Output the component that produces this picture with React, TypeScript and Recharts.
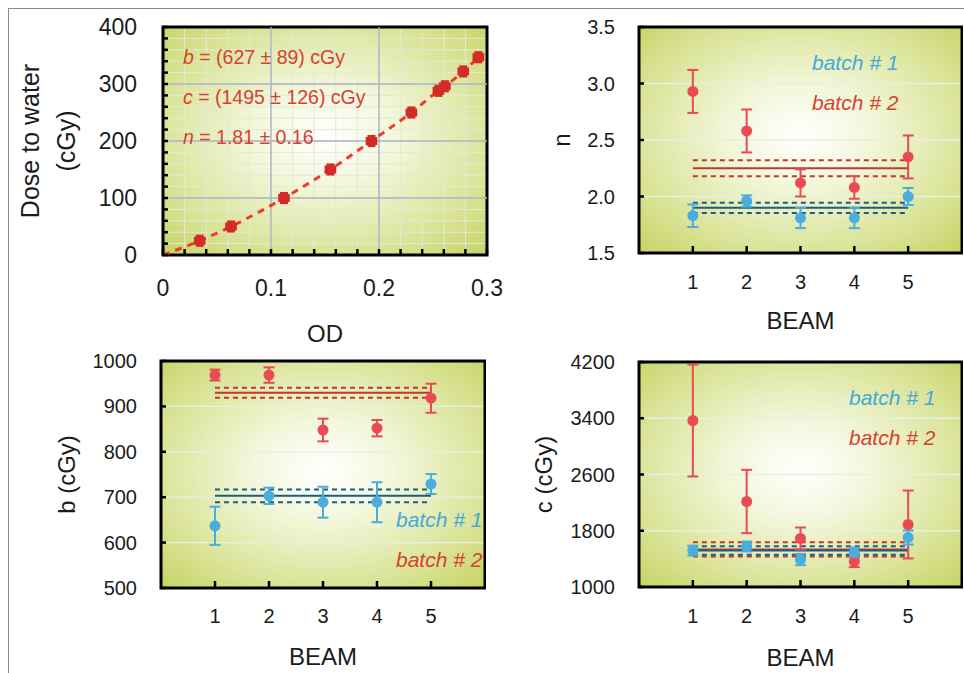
import React from "react";
import {
  CartesianGrid,
  ComposedChart,
  ErrorBar,
  Label,
  Line,
  ReferenceArea,
  ReferenceLine,
  Scatter,
  XAxis,
  YAxis,
} from "recharts";

// Film calibration (top-left) and per-beam fit parameters b, c, n for two film batches.

if (typeof document !== "undefined") document.body.style.margin = "0";

const FONT = '"Liberation Sans", Arial, Helvetica, sans-serif';
const INK = "#1b1b1b";
const RED = "#ea4a52";
const RED_DARK = "#d42b26";
const RED_TEXT = "#d8412f";
const RED_MEAN = "#bf3a2e";
const BLUE = "#4badde";
const BLUE_MEAN = "#1c5d85";
const BLUE_TEXT = "#45a8da";

// ---- calibration curve
const od = [0.034, 0.063, 0.112, 0.155, 0.193, 0.23, 0.255, 0.261, 0.278, 0.292];
const dose = [25, 50, 100, 150, 200, 250, 288, 296, 322, 347];
const odErr = [0.004, 0.004, 0.004, 0.004, 0.004, 0.004, 0.004, 0.004, 0.004, 0.004];
const doseErr = [8, 8, 8, 8, 8, 8, 8, 8, 8, 8];
const odTicks = [0, 0.02, 0.04, 0.06, 0.08, 0.1, 0.12, 0.14, 0.16, 0.18, 0.2, 0.22, 0.24, 0.26, 0.28, 0.3];
const odLabels = [0, 0.1, 0.2, 0.3];
const doseTicks = [0, 20, 40, 60, 80, 100, 120, 140, 160, 180, 200, 220, 240, 260, 280, 300, 320, 340, 360, 380, 400];
const doseLabels = [0, 100, 200, 300, 400];
const odGrid = [0.1, 0.2];
const doseGrid = [100, 200, 300];

// ---- per-beam parameters
const beams = [1, 2, 3, 4, 5];

const nBatch1 = [1.83, 1.96, 1.81, 1.81, 2.0];
const nBatch1Err = [0.1, 0.05, 0.09, 0.09, 0.075];
const nBatch2 = [2.93, 2.58, 2.12, 2.08, 2.35];
const nBatch2Err = [0.19, 0.19, 0.12, 0.1, 0.19];
const nMean = [1.9, 2.25]; // batch 1, batch 2
const nBand = [0.045, 0.07];
const nTicks = [1.5, 2.0, 2.5, 3.0, 3.5];

const bBatch1 = [637, 703, 689, 689, 729];
const bBatch1Err = [42, 18, 34, 44, 22];
const bBatch2 = [969, 969, 848, 852, 918];
const bBatch2Err = [12, 17, 25, 18, 32];
const bMean = [703, 930];
const bBand = [14, 11];
const bTicks = [500, 600, 700, 800, 900, 1000];

const cBatch1 = [1519, 1576, 1391, 1490, 1704];
const cBatch1Err = [70, 70, 80, 70, 100];
const cBatch2 = [3368, 2216, 1690, 1363, 1889];
const cBatch2Err = [796, 450, 156, 80, 483];
const cMean = [1520, 1535];
const cBand = [60, 100];
const cTicks = [1000, 1800, 2600, 3400, 4200];

const near = (list: number[], v: number) => list.some((t) => Math.abs(t - v) < 1e-9);

function makeXTick(o: { len: number; labels?: number[]; offset: number; size: number; fmt: (v: number) => string }) {
  return (p: any) => {
    const v = p.payload.value;
    const show = !o.labels || near(o.labels, v);
    return (
      <g>
        <line x1={p.x} x2={p.x} y1={p.y} y2={p.y - o.len} stroke="#000" strokeWidth={2.5} />
        {show && (
          <text x={p.x} y={p.y + o.offset} textAnchor="middle" dominantBaseline="central" fontFamily={FONT} fontSize={o.size} fill={INK}>
            {o.fmt(v)}
          </text>
        )}
      </g>
    );
  };
}

function makeYTick(o: { len: number; labels?: number[]; gap: number; size: number; fmt: (v: number) => string }) {
  return (p: any) => {
    const v = p.payload.value;
    const show = !o.labels || near(o.labels, v);
    return (
      <g>
        <line x1={p.x} x2={p.x + o.len} y1={p.y} y2={p.y} stroke="#000" strokeWidth={2.5} />
        {show && (
          <text x={p.x - o.gap} y={p.y} textAnchor="end" dominantBaseline="central" fontFamily={FONT} fontSize={o.size} fill={INK}>
            {o.fmt(v)}
          </text>
        )}
      </g>
    );
  };
}

const xTitle = (text: string, offset: number) => (props: any) => {
  const vb = props.viewBox;
  return (
    <text x={vb.x + vb.width / 2} y={vb.y + offset} textAnchor="middle" dominantBaseline="central" fontFamily={FONT} fontSize={24} fill={INK}>
      {text}
    </text>
  );
};

const yTitle = (lines: string[], xs: number[], size: number) => (props: any) => {
  const vb = props.viewBox;
  const cy = vb.y + vb.height / 2;
  return (
    <g>
      {lines.map((t, i) => (
        <text
          key={t}
          transform={`translate(${xs[i]},${cy}) rotate(-90)`}
          textAnchor="middle"
          dominantBaseline="central"
          fontFamily={FONT}
          fontSize={size}
          fill={INK}
        >
          {t}
        </text>
      ))}
    </g>
  );
};

const dot = (color: string, r: number) => (p: any) => <circle cx={p.cx} cy={p.cy} r={r} fill={color} />;

type BeamProps = {
  left: number;
  top: number;
  axisW: number;
  plotW: number;
  plotH: number;
  marginTop: number;
  ticks: number[];
  fmt: (v: number) => string;
  title: string;
  titleX: number;
  xLabelOffset: number;
  beamOffset: number;
  batch1: number[];
  err1: number[];
  batch2: number[];
  err2: number[];
  mean: number[];
  band: number[];
};

function BeamPanel(p: BeamProps) {
  const d1 = beams.map((x, i) => ({ x, y: p.batch1[i], e: p.err1[i] }));
  const d2 = beams.map((x, i) => ({ x, y: p.batch2[i], e: p.err2[i] }));
  const domain = [p.ticks[0], p.ticks[p.ticks.length - 1]];
  const seg = (y: number) => [
    { x: beams[0], y },
    { x: beams[beams.length - 1], y },
  ];
  return (
    <div style={{ position: "absolute", left: p.left, top: p.top }}>
      <ComposedChart
        width={p.axisW + p.plotW + 1}
        height={p.marginTop + p.plotH + 85}
        margin={{ top: p.marginTop, right: 1, bottom: 0, left: 0 }}
      >
        <CartesianGrid fill="url(#plotBg)" vertical={false} stroke="#e6f1e2" strokeWidth={1.3} />
        <XAxis
          type="number"
          dataKey="x"
          domain={[0, 6]}
          allowDataOverflow
          ticks={beams}
          interval={0}
          height={85}
          tickSize={0}
          tickMargin={0}
          axisLine={false}
          tickLine={false}
          tick={makeXTick({ len: 7, offset: p.xLabelOffset, size: 20, fmt: (v) => String(v) })}
        >
          <Label content={xTitle("BEAM", p.beamOffset)} />
        </XAxis>
        <YAxis
          type="number"
          dataKey="y"
          domain={domain}
          allowDataOverflow
          ticks={p.ticks}
          interval={0}
          width={p.axisW}
          tickSize={0}
          tickMargin={0}
          axisLine={false}
          tickLine={false}
          tick={makeYTick({ len: 5, gap: 24, size: 20, fmt: p.fmt })}
        >
          <Label content={yTitle([p.title], [p.titleX], 24)} />
        </YAxis>
        <ReferenceLine segment={seg(p.mean[1] + p.band[1])} stroke={RED_MEAN} strokeWidth={2} strokeDasharray="5 4" />
        <ReferenceLine segment={seg(p.mean[1] - p.band[1])} stroke={RED_MEAN} strokeWidth={2} strokeDasharray="5 4" />
        <ReferenceLine segment={seg(p.mean[1])} stroke={RED_MEAN} strokeWidth={2} />
        <ReferenceLine segment={seg(p.mean[0] + p.band[0])} stroke={BLUE_MEAN} strokeWidth={2} strokeDasharray="5 4" />
        <ReferenceLine segment={seg(p.mean[0] - p.band[0])} stroke={BLUE_MEAN} strokeWidth={2} strokeDasharray="5 4" />
        <ReferenceLine segment={seg(p.mean[0])} stroke={BLUE_MEAN} strokeWidth={2} />
        <Scatter data={d2} fill={RED} shape={dot(RED, 5.5)} isAnimationActive={false}>
          <ErrorBar dataKey="e" direction="y" width={5.5} stroke={RED} strokeWidth={2} isAnimationActive={false} />
        </Scatter>
        <Scatter data={d1} fill={BLUE} shape={dot(BLUE, 5.5)} isAnimationActive={false}>
          <ErrorBar dataKey="e" direction="y" width={5.5} stroke={BLUE} strokeWidth={2} isAnimationActive={false} />
        </Scatter>
        <ReferenceArea x1={0} x2={6} y1={domain[0]} y2={domain[1]} fill="none" stroke="#000" strokeWidth={3} ifOverflow="visible" />
      </ComposedChart>
    </div>
  );
}

function CalibrationPanel() {
  const points = od.map((x, i) => ({ x, y: dose[i], ex: odErr[i], ey: doseErr[i] }));
  const fit = [{ x: 0, y: 0 }, ...od.map((x, i) => ({ x, y: dose[i] }))];
  return (
    <div style={{ position: "absolute", left: 0, top: 0 }}>
      <ComposedChart width={505} height={347} data={fit} margin={{ top: 19, right: 26, bottom: 0, left: 0 }}>
        <CartesianGrid fill="url(#plotBg)" stroke="#e3ead2" strokeWidth={1} />
        {odGrid.map((v) => (
          <ReferenceLine key={`gx${v}`} x={v} stroke="#a9b3c8" strokeWidth={1.4} />
        ))}
        {doseGrid.map((v) => (
          <ReferenceLine key={`gy${v}`} y={v} stroke="#a9b3c8" strokeWidth={1.4} />
        ))}
        <XAxis
          type="number"
          dataKey="x"
          domain={[0, 0.3]}
          allowDataOverflow
          ticks={odTicks}
          interval={0}
          height={100}
          tickSize={0}
          tickMargin={0}
          axisLine={false}
          tickLine={false}
          tick={makeXTick({ len: 6, labels: odLabels, offset: 33, size: 23, fmt: (v) => String(v) })}
        >
          <Label content={xTitle("OD", 78.5)} />
        </XAxis>
        <YAxis
          type="number"
          dataKey="y"
          domain={[0, 400]}
          allowDataOverflow
          ticks={doseTicks}
          interval={0}
          width={155}
          tickSize={0}
          tickMargin={0}
          axisLine={false}
          tickLine={false}
          tick={makeYTick({ len: 5, labels: doseLabels, gap: 26, size: 23, fmt: (v) => String(v) })}
        >
          <Label content={yTitle(["Dose to water", "(cGy)"], [22, 58], 25)} />
        </YAxis>
        <Line
          dataKey="y"
          type="monotone"
          stroke="#ee3a2c"
          strokeWidth={3}
          strokeDasharray="7 6"
          dot={false}
          isAnimationActive={false}
        />
        <Scatter data={points} fill={RED_DARK} shape={dot(RED_DARK, 5)} isAnimationActive={false}>
          <ErrorBar dataKey="ex" direction="x" width={4} stroke={RED_DARK} strokeWidth={3} isAnimationActive={false} />
          <ErrorBar dataKey="ey" direction="y" width={4} stroke={RED_DARK} strokeWidth={3} isAnimationActive={false} />
        </Scatter>
        <ReferenceArea x1={0} x2={0.3} y1={0} y2={400} fill="none" stroke="#000" strokeWidth={3} ifOverflow="visible" />
      </ComposedChart>
    </div>
  );
}

const batchText = (x: number, y: number, label: string, color: string) => (
  <text x={x} y={y} dominantBaseline="central" fontFamily={FONT} fontStyle="italic" fontSize={21} fill={color}>
    {label}
  </text>
);

export default function App() {
  return (
    <div style={{ position: "relative", width: 964, height: 673, overflow: "hidden", fontFamily: FONT }}>
      <svg width={0} height={0} style={{ position: "absolute" }}>
        <defs>
          <radialGradient id="plotBg" cx="50%" cy="48%" r="72%">
            <stop offset="0%" stopColor="#ffffff" />
            <stop offset="30%" stopColor="#f3f7dc" />
            <stop offset="70%" stopColor="#dbe49a" />
            <stop offset="100%" stopColor="#c6d465" />
          </radialGradient>
        </defs>
      </svg>
      <div style={{ position: "absolute", left: 8, top: 8, width: 956, height: 665 }}>
        <div
          style={{
            position: "absolute",
            left: 0,
            top: 0,
            width: 956,
            height: 665,
            boxSizing: "border-box",
            borderTop: "1.5px solid #8a8a8a",
            borderLeft: "1.5px solid #8a8a8a",
          }}
        />
        <CalibrationPanel />
        <BeamPanel
          left={492}
          top={0}
          axisW={139}
          plotW={323}
          plotH={226}
          marginTop={19}
          ticks={nTicks}
          fmt={(v) => v.toFixed(1)}
          title="n"
          titleX={61}
          xLabelOffset={29}
          beamOffset={67.5}
          batch1={nBatch1}
          err1={nBatch1Err}
          batch2={nBatch2}
          err2={nBatch2Err}
          mean={nMean}
          band={nBand}
        />
        <BeamPanel
          left={0}
          top={332}
          axisW={153}
          plotW={324}
          plotH={227}
          marginTop={21}
          ticks={bTicks}
          fmt={(v) => String(v)}
          title="b (cGy)"
          titleX={58}
          xLabelOffset={28}
          beamOffset={68.5}
          batch1={bBatch1}
          err1={bBatch1Err}
          batch2={bBatch2}
          err2={bBatch2Err}
          mean={bMean}
          band={bBand}
        />
        <BeamPanel
          left={492}
          top={332}
          axisW={139}
          plotW={323}
          plotH={225}
          marginTop={22}
          ticks={cTicks}
          fmt={(v) => String(v)}
          title="c (cGy)"
          titleX={43}
          xLabelOffset={29}
          beamOffset={70.5}
          batch1={cBatch1}
          err1={cBatch1Err}
          batch2={cBatch2}
          err2={cBatch2Err}
          mean={cMean}
          band={cBand}
        />
        <svg width={956} height={665} style={{ position: "absolute", left: 0, top: 0, pointerEvents: "none" }}>
          <g fontFamily={FONT} fontSize={19.5} fill={RED_TEXT}>
            <text x={175} y={49} dominantBaseline="central">
              <tspan fontStyle="italic">b</tspan> = (627 ± 89) cGy
            </text>
            <text x={175} y={89} dominantBaseline="central">
              <tspan fontStyle="italic">c</tspan> = (1495 ± 126) cGy
            </text>
            <text x={175} y={129} dominantBaseline="central">
              <tspan fontStyle="italic">n</tspan> = 1.81 ± 0.16
            </text>
          </g>
          {batchText(804, 54, "batch # 1", BLUE_TEXT)}
          {batchText(804, 94, "batch # 2", RED_TEXT)}
          {batchText(388, 511, "batch # 1", BLUE_TEXT)}
          {batchText(388, 551, "batch # 2", RED_TEXT)}
          {batchText(841, 389, "batch # 1", BLUE_TEXT)}
          {batchText(841, 429, "batch # 2", RED_TEXT)}
        </svg>
      </div>
    </div>
  );
}
